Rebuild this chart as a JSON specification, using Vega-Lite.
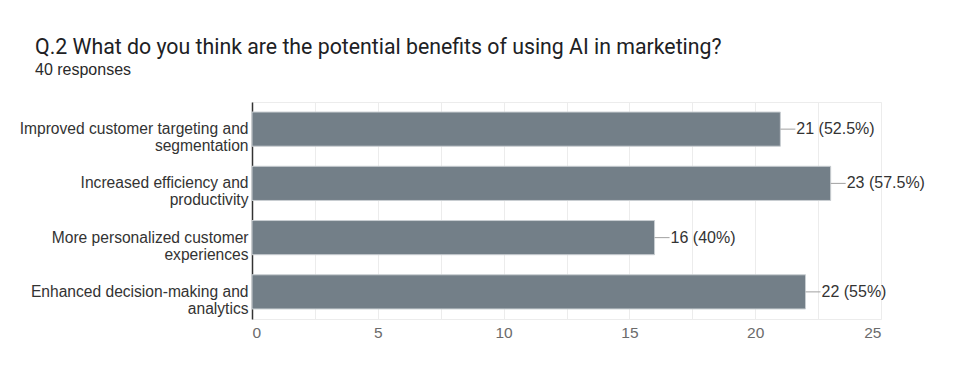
{
  "$schema": "https://vega.github.io/schema/vega-lite/v6.json",
  "width": 629,
  "height": 217,
  "autosize": {"type": "none"},
  "padding": {"left": 252, "top": 102, "right": 85, "bottom": 60},
  "background": "white",
  "title": {
    "text": "Q.2 What do you think are the potential benefits of using AI in marketing?",
    "subtitle": "40 responses",
    "anchor": "start",
    "frame": "group",
    "dx": -217,
    "offset": 24,
    "font": "Roboto",
    "fontSize": 21.3,
    "fontWeight": "normal",
    "color": "#202124",
    "subtitleFont": "Liberation Sans",
    "subtitleFontSize": 16,
    "subtitleColor": "#2a2a2a",
    "subtitlePadding": 4
  },
  "config": {
    "view": {"stroke": "#ececec", "strokeWidth": 1},
    "font": "Liberation Sans"
  },
  "data": {
    "values": [
      {"benefit": "Improved customer targeting and segmentation", "count": 21, "label": "21 (52.5%)"},
      {"benefit": "Increased efficiency and productivity", "count": 23, "label": "23 (57.5%)"},
      {"benefit": "More personalized customer experiences", "count": 16, "label": "16 (40%)"},
      {"benefit": "Enhanced decision-making and analytics", "count": 22, "label": "22 (55%)"}
    ]
  },
  "encoding": {
    "y": {
      "field": "benefit",
      "type": "nominal",
      "sort": null,
      "title": null,
      "scale": {"paddingInner": 0.37, "paddingOuter": 0.185},
      "axis": {
        "domain": true,
        "domainColor": "#333333",
        "domainWidth": 1.5,
        "ticks": false,
        "grid": false,
        "labelPadding": 4,
        "labelFont": "Liberation Sans",
        "labelFontSize": 15.6,
        "labelColor": "#333333",
        "labelLineHeight": 17,
        "labelLimit": 300,
        "labelExpr": "datum.label == 'Improved customer targeting and segmentation' ? ['Improved customer targeting and', 'segmentation'] : datum.label == 'Increased efficiency and productivity' ? ['Increased efficiency and', 'productivity'] : datum.label == 'More personalized customer experiences' ? ['More personalized customer', 'experiences'] : ['Enhanced decision-making and', 'analytics']"
      }
    }
  },
  "layer": [
    {
      "mark": {"type": "bar", "color": "#737f88", "stroke": "#c9ced2", "strokeWidth": 1},
      "encoding": {
        "x": {
          "field": "count",
          "type": "quantitative",
          "title": null,
          "scale": {"domain": [0, 25], "nice": false},
          "axis": {
            "values": [0, 2.5, 5, 7.5, 10, 12.5, 15, 17.5, 20, 22.5, 25],
            "labelExpr": "datum.value % 5 == 0 ? datum.label : ''",
            "domain": false,
            "ticks": false,
            "grid": true,
            "gridColor": "#ececec",
            "labelPadding": 6,
            "labelFont": "Liberation Sans",
            "labelFontSize": 15.5,
            "labelColor": "#6b6b6b"
          }
        }
      }
    },
    {
      "mark": {"type": "rule", "color": "#a0a0a0", "strokeWidth": 1, "x2Offset": 15},
      "encoding": {
        "x": {"field": "count", "type": "quantitative"},
        "x2": {"field": "count"}
      }
    },
    {
      "mark": {"type": "text", "align": "left", "baseline": "middle", "dx": 16, "fontSize": 16, "font": "Liberation Sans", "color": "#333333"},
      "encoding": {
        "x": {"field": "count", "type": "quantitative"},
        "text": {"field": "label"}
      }
    }
  ]
}
